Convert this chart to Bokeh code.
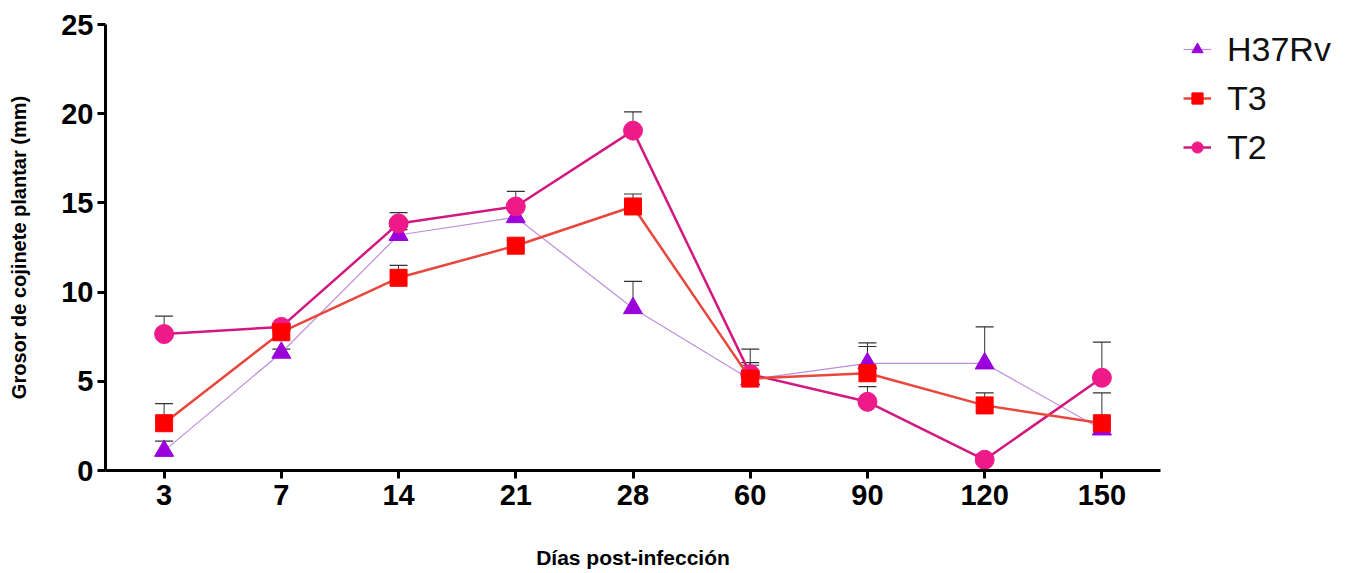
from bokeh.plotting import figure
from bokeh.models import ColumnDataSource, Whisker, TeeHead, Legend, LegendItem, FixedTicker, FactorRange, Range1d
from bokeh.embed import file_html
from bokeh.resources import INLINE

days = ["3", "7", "14", "21", "28", "60", "90", "120", "150"]
h37rv = [1.1, 6.6, 13.2, 14.2, 9.1, 5.1, 6.0, 6.0, 2.3]
h37rv_err = [0.55, 0.2, 0.3, 0.45, 1.5, 0.8, 1.15, 2.05, 0.3]
t3 = [2.65, 7.75, 10.8, 12.6, 14.8, 5.15, 5.45, 3.65, 2.65]
t3_err = [1.1, 0.3, 0.7, 0.3, 0.7, 0.9, 1.5, 0.7, 1.7]
t2 = [7.65, 8.05, 13.85, 14.8, 19.05, 5.4, 3.85, 0.6, 5.2]
t2_err = [1.0, 0.15, 0.6, 0.85, 1.05, 1.4, 0.85, 0.3, 2.0]
y_ticks = [0, 5, 10, 15, 20, 25]

FONT = "Liberation Sans"

p = figure(x_range=FactorRange(*days), y_range=Range1d(0, 25),
           frame_width=1055, frame_height=446,
           min_border_left=105, min_border_right=188, min_border_top=24, min_border_bottom=95,
           output_backend="svg", toolbar_location=None)
p.outline_line_color = None
p.xgrid.grid_line_color = None
p.ygrid.grid_line_color = None

series = [
    ("H37Rv", h37rv, h37rv_err, "triangle", "#9B00DB", "#BC8FDC", 1.2, 19),
    ("T2", t2, t2_err, "circle", "#EE1A8A", "#D2187F", 2.5, 19),
    ("T3", t3, t3_err, "square", "#FF0000", "#E8473D", 2.5, 17),
]
items = {}
for name, vals, errs, marker, mcol, lcol, lw, size in series:
    src = ColumnDataSource(dict(x=days, y=vals,
                                upper=[v + e for v, e in zip(vals, errs)]))
    ln = p.line("x", "y", source=src, line_color=lcol, line_width=lw)
    sc = p.scatter("x", "y", source=src, marker=marker, size=size,
                   fill_color=mcol, line_color=mcol)
    w = Whisker(base="x", upper="upper", lower="y", source=src,
                line_color="#333333", line_width=1,
                upper_head=TeeHead(size=18, line_color="#333333", line_width=1.2),
                lower_head=None)
    p.add_layout(w)
    items[name] = [ln, sc]

legend = Legend(items=[LegendItem(label=n, renderers=items[n]) for n in ["H37Rv", "T3", "T2"]],
                location=(23, 303))
legend.label_text_font = FONT
legend.label_text_font_size = "34px"
legend.label_text_color = "#111111"
legend.glyph_width = 28
legend.glyph_height = 40
legend.label_height = 40
legend.spacing = 9
legend.padding = 6
legend.margin = 0
legend.label_standoff = 16
legend.border_line_color = None
legend.background_fill_alpha = 0
p.add_layout(legend, "right")

for ax in (p.xaxis[0], p.yaxis[0]):
    ax.axis_line_width = 3
    ax.axis_line_color = "#000000"
    ax.major_tick_line_width = 3
    ax.major_tick_line_color = "#000000"
    ax.major_tick_out = 8
    ax.major_tick_in = 0
    ax.minor_tick_line_color = None
    ax.major_label_text_font = FONT
    ax.major_label_text_font_style = "bold"
    ax.major_label_text_font_size = "29px"
    ax.major_label_text_color = "#000000"
    ax.axis_label_text_font = FONT
    ax.axis_label_text_font_style = "bold"
    ax.axis_label_text_color = "#000000"

p.yaxis.ticker = FixedTicker(ticks=y_ticks)
p.yaxis.major_label_standoff = 4
p.yaxis.axis_label = "Grosor de cojinete plantar (mm)"
p.yaxis.axis_label_text_font_size = "20px"
p.yaxis.axis_label_standoff = 28

p.xaxis.major_label_standoff = 6
p.xaxis.axis_label = "Días post-infección"
p.xaxis.axis_label_text_font_size = "21px"
p.xaxis.axis_label_standoff = 38

open("out.html", "w").write(file_html(p, INLINE))
